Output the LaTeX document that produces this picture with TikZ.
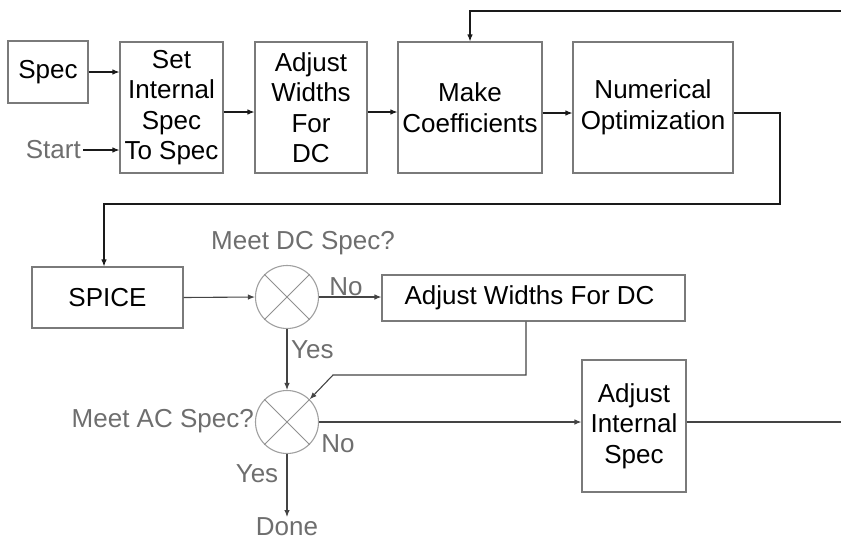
\documentclass[tikz,border=0pt]{standalone}
\usepackage{fontspec}
\setmainfont{Liberation Sans}
\usetikzlibrary{arrows.meta,calc}
\definecolor{boxline}{HTML}{7A7A7A}
\definecolor{circline}{HTML}{A0A0A0}
\definecolor{labelgray}{HTML}{6E6E6E}
\definecolor{wire}{HTML}{1A1A1A}
\definecolor{wiregray}{HTML}{444444}
\begin{document}
\begin{tikzpicture}[x=1pt,y=-1pt,
  font=\fontsize{26}{30.5}\selectfont,
  box/.style={draw=boxline,line width=1.1pt,align=center,inner sep=0pt,text=black},
  summer/.style={circle,draw=circline,line width=1.1pt,minimum size=63pt,inner sep=0pt},
  lbl/.style={text=labelgray,inner sep=0pt},
  arr/.style={draw=wire,line width=1.1pt,-{Latex[length=7pt,width=5.5pt]}},
  ln/.style={draw=wire,line width=1.1pt},
  arrg/.style={draw=wiregray,line width=1.1pt,-{Latex[length=7pt,width=5.5pt]}},
  lng/.style={draw=wiregray,line width=1.1pt}]
\useasboundingbox (0,0) rectangle (841,539);
% top row
\node[box,minimum width=80pt,minimum height=62pt] (spec) at (48,72) {Spec};
\node[box,minimum width=103pt,minimum height=131pt] (setint) at (171.5,107.5) {Set\\Internal\\Spec\\To Spec};
\node[box,minimum width=112pt,minimum height=131pt] (adjw) at (311,107.5) {Adjust\\Widths\\For\\DC};
\node[box,minimum width=144pt,minimum height=131pt] (makec) at (470,107.5) {Make\\Coefficients};
\node[box,minimum width=160pt,minimum height=131pt] (numopt) at (653,107.5) {Numerical\\Optimization};
\node[lbl,anchor=east] (start) at (81,150) {Start};
% lower part
\node[box,minimum width=151pt,minimum height=61pt] (spice) at (107.5,297.5) {SPICE};
\node[summer] (c1) at (287,297) {};
\node[summer] (c2) at (287,422) {};
\foreach \c in {c1,c2}{
  \draw[circline!90!black,line width=0.9pt] (\c.45) -- (\c.225) (\c.135) -- (\c.315);
}
\node[box,minimum width=303pt,minimum height=46pt] (adjdc) at (533.5,298) {Adjust Widths For DC\hspace{8pt}};
\node[box,minimum width=104pt,minimum height=132pt] (adjint) at (634,426) {Adjust\\Internal\\Spec};
\node[lbl] (mdc) at (303,243) {Meet DC Spec?};
\node[lbl,anchor=east] (mac) at (254,421) {Meet AC Spec?};
\node[lbl] (no1) at (346,287) {No};
\node[lbl,anchor=west] (yes1) at (291,350) {Yes};
\node[lbl] (no2) at (338,444) {No};
\node[lbl] (yes2) at (257,474) {Yes};
\node[lbl,anchor=north] (done) at (287,517) {Done};
% coordinates
\coordinate (fbR) at (841,11);
\coordinate (down) at (780,204);
\coordinate (bend) at (333,375);
\coordinate (outR) at (841,422);
% connectors top
\draw[arr] (spec.east) -- (spec.east -| setint.west);
\draw[arr] (start.east) ++(2pt,0) -- (start.east -| setint.west);
\draw[arr] ([yshift=-4.5pt]setint.east) -- ([yshift=-4.5pt]adjw.west);
\draw[arr] ([yshift=-4.5pt]adjw.east) -- ([yshift=-4.5pt]makec.west);
\draw[arr] ([yshift=-5.5pt]makec.east) -- ([yshift=-5.5pt]numopt.west);
\draw[arr] (fbR) -| (makec.north);
\draw[arr] ([yshift=-5.5pt]numopt.east) -| (down) -| ([xshift=-3.5pt]spice.north);
% connectors bottom
\draw[arrg] (spice.east) -- (c1.west);
\draw[arrg] (c1.east) -- (c1.east -| adjdc.west);
\draw[arrg] (c1.south) -- (c2.north);
\draw[arrg] ([xshift=-7.5pt]adjdc.south) |- (bend) -- (c2.45);
\draw[arrg] (c2.east) -- (c2.east -| adjint.west);
\draw[lng] (c2.east -| adjint.east) -- (outR);
\draw[arrg] (c2.south) -- (c2.south |- done.north);
\end{tikzpicture}
\end{document}
